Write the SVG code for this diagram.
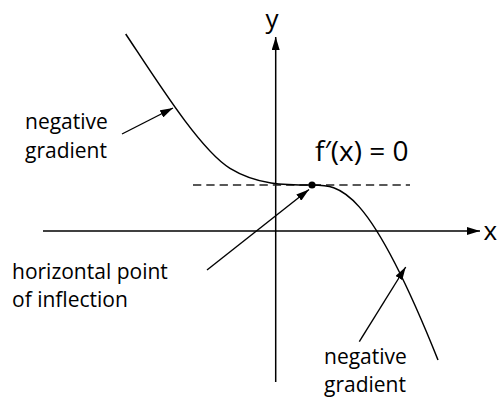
<svg xmlns="http://www.w3.org/2000/svg" width="499" height="398" viewBox="0 0 499 398">
<style>
.ln{fill:none;stroke:#000;stroke-width:1.4}
.ax{fill:none;stroke:#000;stroke-width:1.5}
.cv{fill:none;stroke:#000;stroke-width:1.5}
.ds{fill:none;stroke:#222;stroke-width:1.3;stroke-dasharray:8.3 5}
.t{font-family:"Open Sans","Noto Sans",sans-serif;font-size:21px;fill:#000}
.big{font-size:26px}
.fp{font-size:28px}
</style>
<defs>
<marker id="ah" markerWidth="14" markerHeight="8" refX="13" refY="4" orient="auto" markerUnits="userSpaceOnUse">
<path d="M0,0 L13,4 L0,8 z" fill="#000"/>
</marker>
</defs>
<g id="axes">
<line class="ax" x1="43" y1="231" x2="480" y2="231" marker-end="url(#ah)"/>
<line class="ax" x1="275.7" y1="382" x2="275.7" y2="37" marker-end="url(#ah)"/>
<text class="t big" x="265.5" y="28">y</text>
<text class="t big" x="483.5" y="240">x</text>
</g>
<g id="tangent">
<line class="ds" x1="193" y1="185" x2="410" y2="185"/>
</g>
<g id="curve">
<path class="cv" d="M125.7,34 C155.7,79 200,150 230,168.3 C257.3,185 284.7,185 312,185 C340,185 368,185 438,360"/>
<circle cx="312" cy="185" r="3.6" fill="#000"/>
</g>
<g id="label-fprime">
<text class="t fp" x="315" y="161">f′(x) = 0</text>
</g>
<g id="label-neg1">
<text class="t" x="25" y="129">negative</text>
<text class="t" x="25" y="158">gradient</text>
</g>
<g id="label-inflection">
<text class="t" x="12" y="279">horizontal point</text>
<text class="t" x="12" y="307">of inflection</text>
</g>
<g id="label-neg2">
<text class="t" x="324" y="364">negative</text>
<text class="t" x="324" y="392">gradient</text>
</g>
<g id="connectors">
<line class="ln" x1="122" y1="134" x2="173" y2="108" marker-end="url(#ah)"/>
<line class="ln" x1="207" y1="270" x2="309" y2="189.5" marker-end="url(#ah)"/>
<line class="ln" x1="359.3" y1="341.7" x2="405.7" y2="267" marker-end="url(#ah)"/>
</g>
</svg>
